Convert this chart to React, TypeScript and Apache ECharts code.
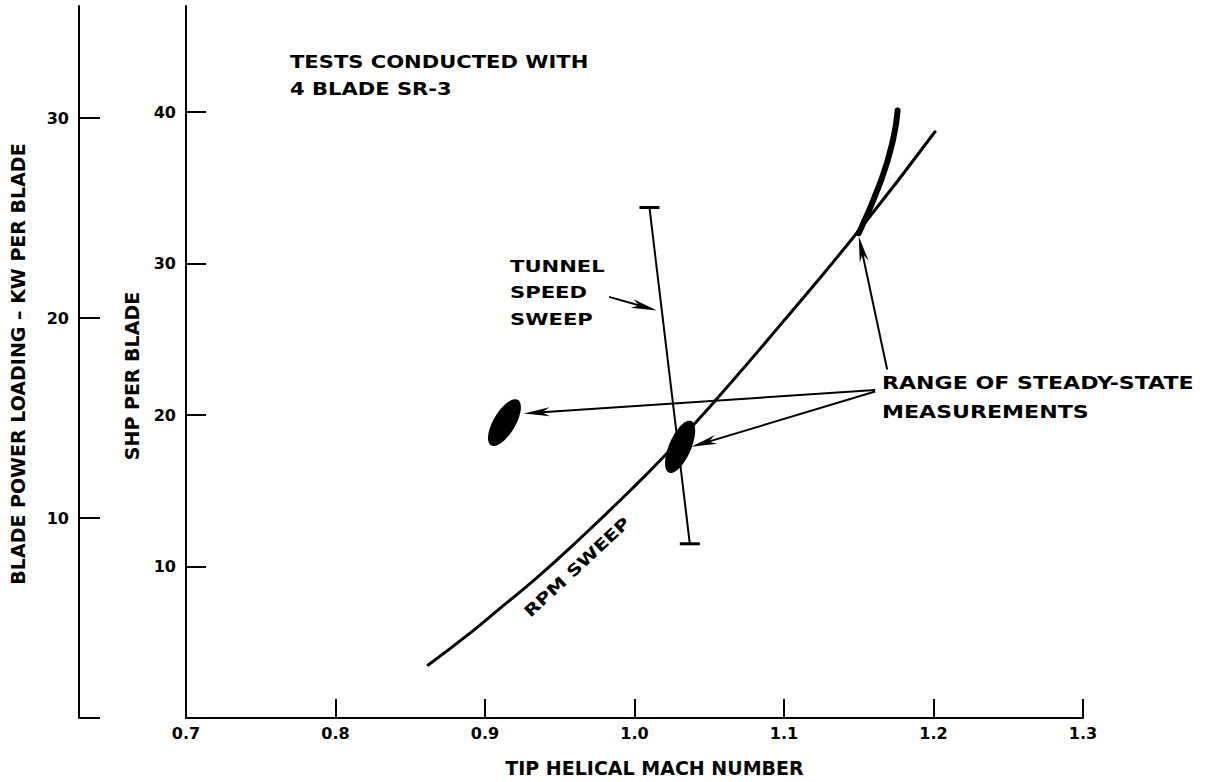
import React, { useEffect, useRef } from 'react';
import * as echarts from 'echarts';

// ---- axis ticks / labels ----
const machTicks = [0.7, 0.8, 0.9, 1.0, 1.1, 1.2, 1.3];
const machTickLabels = ['0.7', '0.8', '0.9', '1.0', '1.1', '1.2', '1.3'];
const shpTicks = [10, 20, 30, 40];
const kwTicks = [10, 20, 30];
const kwTickMarks = [0, 10, 20, 30];

// ---- RPM sweep (tip helical Mach vs SHP per blade) ----
const rpmMach = [0.862, 0.890, 0.912, 0.934, 0.962, 0.998, 1.020, 1.050, 1.098, 1.151, 1.201];
const rpmShp = [3.5, 5.6, 7.4, 9.2, 11.7, 15.1, 17.3, 20.5, 26.0, 32.3, 38.7];

// ---- Tunnel speed sweep (range bar) ----
const tunnelMach = [1.010, 1.037];
const tunnelShp = [33.7, 11.5];

// ---- Steady-state measurement range, high-Mach band ----
const bandMach = [1.176, 1.173, 1.165, 1.150];
const bandShp = [40.1, 38.2, 35.5, 32.0];

// ---- Steady-state measurement ranges (blobs), ends of long axis ----
const blobMachA = [0.922, 1.038];
const blobShpA = [21.0, 19.6];
const blobMachB = [0.904, 1.023];
const blobShpB = [18.0, 16.2];

// ---- annotation arrows (data space: from -> tip) ----
const arrowFromMach = [1.169, 1.161, 1.161, 0.983];
const arrowFromShp = [23.0, 21.65, 21.55, 27.8];
const arrowToMach = [1.150, 0.926, 1.038, 1.015];
const arrowToShp = [31.8, 20.1, 17.9, 26.9];

const FONT = '"DejaVu Sans", Verdana, sans-serif';

function buildOption(): any {
  const rpmData = rpmMach.map((m, i) => [m, rpmShp[i]]);
  const tunnelData = tunnelMach.map((m, i) => [m, tunnelShp[i]]);
  const bandData = bandMach.map((m, i) => [m, bandShp[i]]);
  const blobData = blobMachA.map((m, i) => [m, blobShpA[i], blobMachB[i], blobShpB[i]]);
  const arrowData = arrowFromMach.map((m, i) => [m, arrowFromShp[i], arrowToMach[i], arrowToShp[i]]);

  const labelStyle = { color: '#000', fontFamily: FONT, fontWeight: 'bold', fontSize: 16 };
  const nameStyle = { color: '#000', fontFamily: FONT, fontWeight: 'bold', fontSize: 19 };
  const axisLine = { show: true, lineStyle: { color: '#000', width: 2 } };

  const text = (t: string, x: number, y: number, sx: number, size: number, rot = 0) => ({
    type: 'text',
    x,
    y,
    rotation: rot,
    scaleX: sx,
    silent: true,
    style: {
      text: t,
      font: `bold ${size}px ${FONT}`,
      fill: '#000',
      textAlign: rot ? 'center' : 'left',
      textVerticalAlign: 'middle',
    },
  });

  return {
    animation: false,
    backgroundColor: '#fff',
    grid: { left: 182, right: 126, top: 6, bottom: 64, containLabel: false },
    xAxis: {
      type: 'value',
      min: 0.7,
      max: 1.3,
      name: 'TIP HELICAL MACH NUMBER',
      nameLocation: 'middle',
      nameGap: 40,
      nameTextStyle: { ...nameStyle, padding: [0, 0, 0, 40] },
      axisLine,
      axisTick: { show: true, inside: true, length: 19, customValues: machTicks, lineStyle: { color: '#000', width: 2 } },
      axisLabel: {
        ...labelStyle,
        margin: 7,
        customValues: machTicks,
        formatter: (v: number) => {
          const i = machTicks.findIndex((t) => Math.abs(t - v) < 1e-6);
          return i >= 0 ? machTickLabels[i] : '';
        },
      },
      splitLine: { show: false },
    },
    yAxis: [
      {
        type: 'value',
        position: 'left',
        min: 0,
        max: 47,
        name: 'SHP PER BLADE',
        nameLocation: 'middle',
        nameGap: 45,
        nameTextStyle: { ...nameStyle, padding: [0, 28, 0, 0] },
        axisLine,
        axisTick: { show: true, inside: true, length: 20, customValues: shpTicks, lineStyle: { color: '#000', width: 2 } },
        axisLabel: { ...labelStyle, margin: 10, customValues: shpTicks },
        splitLine: { show: false },
      },
      {
        type: 'value',
        position: 'left',
        offset: 107,
        min: 0,
        max: 35.6,
        name: 'BLADE POWER LOADING – KW PER BLADE',
        nameLocation: 'middle',
        nameGap: 52,
        nameTextStyle: { ...nameStyle, padding: [0, 4, 0, 0] },
        axisLine,
        axisTick: { show: true, inside: true, length: 21, customValues: kwTickMarks, lineStyle: { color: '#000', width: 2 } },
        axisLabel: { ...labelStyle, margin: 10, customValues: kwTicks },
        splitLine: { show: false },
      },
    ],
    series: [
      {
        name: 'RPM sweep',
        type: 'line',
        data: rpmData,
        smooth: true,
        showSymbol: false,
        symbol: 'none',
        lineStyle: { color: '#000', width: 3, cap: 'round' },
        silent: true,
      },
      {
        name: 'Tunnel speed sweep',
        type: 'line',
        data: tunnelData,
        symbol: 'rect',
        symbolSize: [20, 3],
        itemStyle: { color: '#000' },
        lineStyle: { color: '#000', width: 2 },
        silent: true,
      },
      {
        name: 'Steady-state band',
        type: 'line',
        data: bandData,
        smooth: true,
        symbol: 'none',
        lineStyle: { color: '#000', width: 6, cap: 'round' },
        silent: true,
      },
      {
        name: 'Steady-state ranges',
        type: 'custom',
        data: blobData,
        dimensions: ['x1', 'y1', 'x2', 'y2'],
        encode: { x: [0, 2], y: [1, 3] },
        silent: true,
        renderItem: (params: any, api: any) => {
          const p1 = api.coord([api.value(0), api.value(1)]);
          const p2 = api.coord([api.value(2), api.value(3)]);
          const cx = (p1[0] + p2[0]) / 2;
          const cy = (p1[1] + p2[1]) / 2;
          const dx = p2[0] - p1[0];
          const dy = p2[1] - p1[1];
          const len = Math.hypot(dx, dy) || 1;
          const ux = dx / len;
          const uy = dy / len;
          const a = len / 2;
          const b = 11;
          const pts: number[][] = [];
          for (let k = 0; k < 60; k++) {
            const t = (k / 60) * Math.PI * 2;
            const c = Math.cos(t) * a;
            const s = Math.sin(t) * b;
            pts.push([cx + c * ux - s * uy, cy + c * uy + s * ux]);
          }
          return { type: 'polygon', shape: { points: pts }, style: { fill: '#000' } };
        },
      },
      {
        name: 'Annotation arrows',
        type: 'custom',
        data: arrowData,
        dimensions: ['x1', 'y1', 'x2', 'y2'],
        encode: { x: [0, 2], y: [1, 3] },
        silent: true,
        renderItem: (params: any, api: any) => {
          const p1 = api.coord([api.value(0), api.value(1)]);
          const p2 = api.coord([api.value(2), api.value(3)]);
          const dx = p2[0] - p1[0];
          const dy = p2[1] - p1[1];
          const len = Math.hypot(dx, dy) || 1;
          const ux = dx / len;
          const uy = dy / len;
          const nx = -uy;
          const ny = ux;
          const L = 26;
          const W = 4.5;
          const N = 18;
          const base = [p2[0] - ux * N, p2[1] - uy * N];
          return {
            type: 'group',
            children: [
              {
                type: 'line',
                shape: { x1: p1[0], y1: p1[1], x2: base[0], y2: base[1] },
                style: { stroke: '#000', lineWidth: 2 },
              },
              {
                type: 'polygon',
                shape: {
                  points: [
                    [p2[0], p2[1]],
                    [p2[0] - ux * L + nx * W, p2[1] - uy * L + ny * W],
                    base,
                    [p2[0] - ux * L - nx * W, p2[1] - uy * L - ny * W],
                  ],
                },
                style: { fill: '#000' },
              },
            ],
          };
        },
      },
    ],
    graphic: [
      text('TESTS CONDUCTED WITH', 290, 62, 1.24, 17),
      text('4 BLADE SR-3', 290, 89, 1.24, 17),
      text('TUNNEL', 510, 266, 1.32, 16),
      text('SPEED', 510, 292, 1.32, 16),
      text('SWEEP', 510, 319, 1.32, 16),
      text('RANGE OF STEADY-STATE', 882, 383, 1.3, 17),
      text('MEASUREMENTS', 882, 412, 1.3, 17),
      text('RPM SWEEP', 577, 567, 1.27, 16, 0.75),
    ],
  };
}

export default function App() {
  const ref = useRef<HTMLDivElement>(null);
  useEffect(() => {
    if (!ref.current) return;
    const chart = echarts.init(ref.current, undefined, { renderer: 'svg' });
    chart.setOption(buildOption());
    return () => chart.dispose();
  }, []);
  return (
    <div
      ref={ref}
      style={{ position: 'fixed', left: 0, top: 0, width: 1209, height: 782, background: '#fff' }}
    />
  );
}
